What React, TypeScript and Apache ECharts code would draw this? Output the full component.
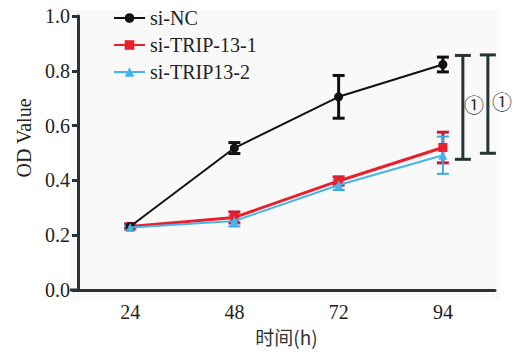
import React, { useEffect, useRef } from "react";
import * as echarts from "echarts";

const categories = ["24", "48", "72", "94"];
const seriesNames = ["si-NC", "si-TRIP-13-1", "si-TRIP13-2"];
const ncValues = [0.232, 0.518, 0.705, 0.823];
const ncErrors = [0.008, 0.02, 0.078, 0.027];
const t1Values = [0.232, 0.265, 0.398, 0.52];
const t1Errors = [0.008, 0.02, 0.015, 0.056];
const t2Values = [0.228, 0.252, 0.383, 0.492];
const t2Errors = [0.008, 0.02, 0.018, 0.068];
const yTicks = [0, 0.2, 0.4, 0.6, 0.8, 1.0];
// significance brackets: [category index, low, high]
const brackets = [
  [3, 0.477, 0.856],
  [3, 0.499, 0.858],
];
const bracketLabels = ["①", "①"];
const BRACKET_OFFSETS = [20, 45];
const LABEL_OFFSETS = [31, 59];

const AXIS_COLOR = "#263434";
const FONT = "'Liberation Serif', 'Noto Sans CJK SC', serif";
const colors = ["#111111", "#e8202c", "#45b4ea"];
const errColors = ["#111111", "#c4203e", "#3aa9e2"];

function errData(vals: number[], errs: number[]) {
  return vals.map((v, i) => [i, v - errs[i], v + errs[i]]);
}

function errSeries(vals: number[], errs: number[], color: string, lw: number) {
  return {
    type: "custom",
    data: errData(vals, errs),
    encode: { x: 0, y: [1, 2] },
    z: 3,
    silent: true,
    renderItem: (params: any, api: any) => {
      const x = api.value(0);
      const lo = api.coord([x, api.value(1)]);
      const hi = api.coord([x, api.value(2)]);
      const hw = 6;
      const style = { stroke: color, lineWidth: lw };
      return {
        type: "group",
        children: [
          { type: "line", shape: { x1: lo[0], y1: lo[1], x2: hi[0], y2: hi[1] }, style },
          { type: "line", shape: { x1: lo[0] - hw, y1: lo[1], x2: lo[0] + hw, y2: lo[1] }, style },
          { type: "line", shape: { x1: hi[0] - hw, y1: hi[1], x2: hi[0] + hw, y2: hi[1] }, style },
        ],
      };
    },
  };
}

export default function App() {
  const ref = useRef<HTMLDivElement>(null);
  useEffect(() => {
    if (!ref.current) return;
    const chart = echarts.init(ref.current, null, { renderer: "svg" });
    const option: any = {
      animation: false,
      backgroundColor: "#ffffff",
      textStyle: { fontFamily: FONT },
      grid: { left: 78, right: 29, top: 16, bottom: 62 },
      graphic: [
        {
          type: "rect",
          shape: { x: 70, y: 10, width: 429, height: 290 },
          style: { fill: "#f9f9f9" },
          z: -10,
          silent: true,
        },
        {
          type: "line",
          shape: { x1: 70, y1: 290, x2: 80, y2: 290 },
          style: { stroke: AXIS_COLOR, lineWidth: 3 },
          z: 10,
          silent: true,
        },
      ],
      legend: {
        orient: "vertical",
        left: 108,
        top: 3,
        itemWidth: 31,
        itemHeight: 12,
        itemGap: 7,
        data: seriesNames,
        formatter: "{t|{name}}",
        textStyle: {
          fontFamily: FONT,
          fontSize: 20,
          color: "#222",
          lineHeight: 20,
          rich: {
            t: { fontFamily: FONT, fontSize: 20, color: "#222", lineHeight: 20 },
          },
        },
      },
      xAxis: {
        type: "category",
        data: categories,
        boundaryGap: true,
        name: "时间(h)",
        nameLocation: "middle",
        nameGap: 37,
        nameTextStyle: { fontFamily: "'Noto Sans CJK SC', serif", fontSize: 19, color: "#333" },
        axisLine: { lineStyle: { color: AXIS_COLOR, width: 3 } },
        axisTick: { alignWithLabel: true, length: 6, lineStyle: { width: 3, color: AXIS_COLOR } },
        axisLabel: { fontFamily: FONT, fontSize: 20, color: "#222", margin: 12 },
        splitLine: { show: false },
      },
      yAxis: {
        type: "value",
        min: 0,
        max: 1,
        interval: 0.2,
        name: "OD Value",
        nameLocation: "middle",
        nameGap: 41,
        nameTextStyle: { fontFamily: FONT, fontSize: 20, color: "#222", padding: [0, 0, 0, 30] },
        axisLine: { show: true, lineStyle: { color: AXIS_COLOR, width: 3 } },
        axisTick: { show: true, length: 6, lineStyle: { width: 3, color: AXIS_COLOR } },
        axisLabel: {
          fontFamily: FONT,
          fontSize: 20,
          color: "#222",
          margin: 8,
          formatter: (v: number) => (yTicks.includes(Number(v.toFixed(1))) ? v.toFixed(1) : ""),
        },
        splitLine: { show: false },
      },
      series: [
        {
          name: seriesNames[0],
          type: "line",
          data: ncValues,
          symbol: "circle",
          symbolSize: 9,
          itemStyle: { color: colors[0] },
          lineStyle: { color: colors[0], width: 2 },
          z: 5,
        },
        {
          name: seriesNames[1],
          type: "line",
          data: t1Values,
          symbol: "rect",
          symbolSize: 9,
          itemStyle: { color: colors[1] },
          lineStyle: { color: colors[1], width: 3 },
          z: 4,
        },
        {
          name: seriesNames[2],
          type: "line",
          data: t2Values,
          symbol: "triangle",
          symbolSize: 9,
          itemStyle: { color: colors[2] },
          lineStyle: { color: colors[2], width: 2 },
          z: 6,
        },
        errSeries(ncValues, ncErrors, errColors[0], 3),
        errSeries(t1Values, t1Errors, errColors[1], 3),
        errSeries(t2Values, t2Errors, errColors[2], 2),
        {
          type: "custom",
          data: brackets,
          encode: { x: 0, y: [1, 2] },
          silent: true,
          z: 3,
          renderItem: (params: any, api: any) => {
            const i = params.dataIndex;
            const x = api.value(0);
            const lo = api.coord([x, api.value(1)]);
            const hi = api.coord([x, api.value(2)]);
            const bx = lo[0] + BRACKET_OFFSETS[i];
            const hw = 8;
            const style = { stroke: AXIS_COLOR, lineWidth: 3 };
            return {
              type: "group",
              children: [
                { type: "line", shape: { x1: bx, y1: lo[1], x2: bx, y2: hi[1] }, style },
                { type: "line", shape: { x1: bx - hw, y1: lo[1], x2: bx + hw, y2: lo[1] }, style },
                { type: "line", shape: { x1: bx - hw, y1: hi[1], x2: bx + hw, y2: hi[1] }, style },
                {
                  type: "text",
                  x: lo[0] + LABEL_OFFSETS[i],
                  y: (lo[1] + hi[1]) / 2 - 3,
                  style: {
                    text: bracketLabels[i],
                    fontFamily: "'Noto Sans CJK SC', sans-serif",
                    fontSize: 20,
                    fill: "#333",
                    align: "center",
                    verticalAlign: "middle",
                  },
                },
              ],
            };
          },
        },
      ],
    };
    chart.setOption(option);
    return () => chart.dispose();
  }, []);
  return (
    <div
      ref={ref}
      style={{ position: "fixed", left: 0, top: 0, width: 524, height: 352 }}
    />
  );
}
